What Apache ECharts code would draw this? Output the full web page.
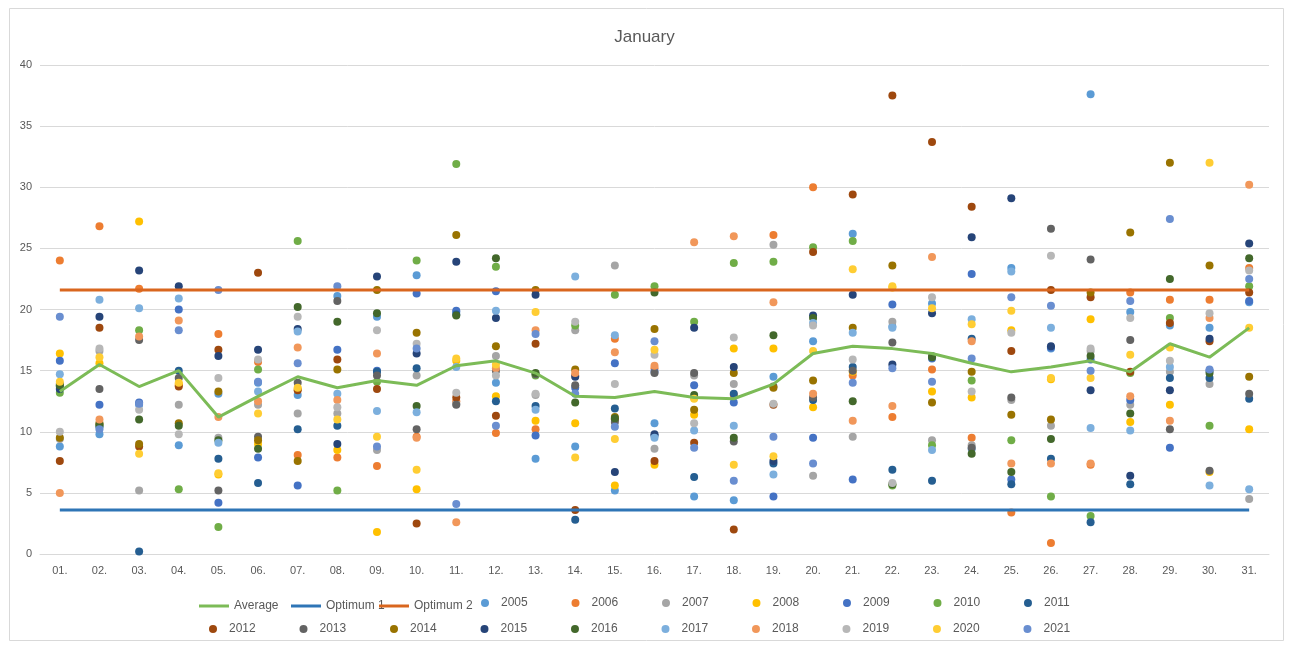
<!DOCTYPE html>
<html>
<head>
<meta charset="utf-8">
<title>January</title>
<script src="https://cdn.jsdelivr.net/npm/echarts@6/dist/echarts.min.js"></script>
<style>
	html, body { margin: 0; padding: 0; background: #fff; }
	#main { width: 1289px; height: 646px; }
</style>
</head>
<body>
<div id="main"></div>
<script>
var days = ['01.','02.','03.','04.','05.','06.','07.','08.','09.','10.','11.','12.','13.','14.','15.','16.',
	'17.','18.','19.','20.','21.','22.','23.','24.','25.','26.','27.','28.','29.','30.','31.'];

var average = [13.3,15.5,13.7,15.0,11.2,12.9,14.5,13.6,14.2,13.8,15.4,15.8,14.8,12.9,12.8,13.3,
	12.8,12.7,13.9,16.4,17.0,16.8,16.4,15.6,14.9,15.3,15.8,14.9,17.2,16.1,18.5];
var optimum1 = [3.6,3.6,3.6,3.6,3.6,3.6,3.6,3.6,3.6,3.6,3.6,3.6,3.6,3.6,3.6,3.6,
	3.6,3.6,3.6,3.6,3.6,3.6,3.6,3.6,3.6,3.6,3.6,3.6,3.6,3.6,3.6];
var optimum2 = [21.6,21.6,21.6,21.6,21.6,21.6,21.6,21.6,21.6,21.6,21.6,21.6,21.6,21.6,21.6,21.6,
	21.6,21.6,21.6,21.6,21.6,21.6,21.6,21.6,21.6,21.6,21.6,21.6,21.6,21.6,21.6];

var y2005 = [8.8,9.8,12.2,8.9,13.1,14.0,13.0,21.1,19.4,22.8,19.8,14.0,7.8,8.8,5.2,10.7,4.7,4.4,14.5,17.4,26.2,18.6,20.5,8.6,23.4,16.8,37.6,19.8,18.7,18.5,20.6];
var y2006 = [24.0,26.8,21.7,13.8,18.0,15.7,8.1,7.9,7.2,9.6,12.5,9.9,10.2,14.6,17.6,15.2,12.8,13.0,26.1,30.0,14.6,11.2,15.1,9.5,3.4,0.9,7.3,21.4,20.8,20.8,23.4];
var y2007 = [9.4,16.6,5.2,12.2,9.5,12.2,11.5,11.5,8.5,14.6,12.3,16.2,13.0,18.3,23.6,8.6,14.6,13.9,25.3,6.4,9.6,19.0,9.3,8.9,12.6,10.5,16.6,12.2,14.9,13.9,4.5];
var y2008 = [16.4,15.6,27.2,13.9,6.5,9.0,13.5,8.5,1.8,5.3,15.8,12.9,10.9,10.7,5.6,7.3,11.4,16.8,16.8,12.0,14.9,21.8,13.3,12.8,18.3,14.3,19.2,10.8,12.2,6.7,10.2];
var y2009 = [15.8,12.2,12.4,20.0,4.2,7.9,5.6,16.7,15.0,21.3,19.9,21.5,9.7,13.6,15.6,14.9,13.8,12.4,4.7,9.5,6.1,20.4,16.0,22.9,6.1,16.9,15.9,12.6,8.7,15.0,20.7];
var y2010 = [13.2,10.5,18.3,5.3,2.2,15.1,25.6,5.2,14.1,24.0,31.9,23.5,14.6,18.7,21.2,21.9,19.0,23.8,23.9,25.1,25.6,5.6,8.9,14.2,9.3,4.7,3.1,14.8,19.3,10.5,21.9];
var y2011 = [13.7,10.4,0.2,15.0,7.8,5.8,10.2,10.5,14.9,15.2,19.6,12.5,12.1,2.8,11.9,9.7,6.3,13.1,7.4,12.6,15.3,6.9,6.0,17.6,5.7,7.8,2.6,5.7,14.4,14.4,12.7];
var y2012 = [7.6,18.5,8.8,13.7,16.7,23.0,13.4,15.9,13.5,2.5,12.8,11.3,17.2,3.6,11.0,7.6,9.1,2.0,12.2,24.7,29.4,37.5,33.7,28.4,16.6,21.6,21.0,14.9,18.9,17.4,21.4];
var y2013 = [13.9,13.5,17.5,14.4,5.2,9.6,14.0,20.7,14.6,10.2,12.2,15.0,14.7,13.8,10.8,14.8,14.8,9.2,13.7,12.8,15.0,17.3,16.2,8.7,12.8,26.6,24.1,17.5,10.2,6.8,13.1];
var y2014 = [9.5,10.7,9.0,10.7,13.3,9.3,7.6,15.1,21.6,18.1,26.1,17.0,21.6,15.1,11.2,18.4,11.8,14.8,13.6,14.2,18.5,23.6,12.4,14.9,11.4,11.0,21.4,26.3,32.0,23.6,14.5];
var y2015 = [13.5,19.4,23.2,21.9,16.2,16.7,18.4,9.0,22.7,16.4,23.9,19.3,21.2,14.5,6.7,9.8,18.5,15.3,7.6,19.5,21.2,15.5,19.7,25.9,29.1,17.0,13.4,6.4,13.4,17.6,25.4];
var y2016 = [13.8,10.6,11.0,10.5,9.3,8.6,20.2,19.0,19.7,12.1,19.5,24.2,14.8,12.4,11.1,21.4,13.0,9.5,17.9,19.3,12.5,5.7,16.1,8.2,6.7,9.4,16.2,11.5,22.5,14.8,24.2];
var y2017 = [14.7,20.8,20.1,20.9,9.1,13.3,18.2,13.1,11.7,11.6,15.3,19.9,11.8,22.7,17.9,9.5,10.1,10.5,6.5,18.9,18.1,18.5,8.5,19.2,23.1,18.5,10.3,10.1,15.3,5.6,5.3];
var y2018 = [5.0,11.0,17.8,19.1,11.2,12.5,16.9,12.6,16.4,9.5,2.6,15.2,18.3,14.8,16.5,15.4,25.5,26.0,20.6,13.1,10.9,12.1,24.3,17.4,7.4,7.4,7.4,12.9,10.9,19.3,30.2];
var y2019 = [10.0,16.8,11.8,9.8,14.4,15.9,19.4,12.0,18.3,17.2,13.2,14.6,13.1,19.0,13.9,16.3,10.7,17.7,12.3,18.7,15.9,5.8,21.0,13.3,18.1,24.4,16.8,19.3,15.8,19.7,23.2];
var y2020 = [14.1,16.1,8.2,14.0,6.6,11.5,13.6,11.0,9.6,6.9,16.0,15.5,19.8,7.9,9.4,16.7,12.7,7.3,8.0,16.6,23.3,21.9,20.1,18.8,19.9,14.4,14.4,16.3,16.9,32.0,18.5];
var y2021 = [19.4,10.2,12.3,18.3,21.6,14.1,15.6,21.9,8.8,16.8,4.1,10.5,18.0,13.1,10.4,17.4,8.7,6.0,9.6,7.4,14.0,15.2,14.1,16.0,21.0,20.3,15.0,20.7,27.4,15.1,22.5];

var yearNames = ['2005','2006','2007','2008','2009','2010','2011','2012','2013','2014','2015','2016','2017','2018','2019','2020','2021'];
var yearData = [y2005,y2006,y2007,y2008,y2009,y2010,y2011,y2012,y2013,y2014,y2015,y2016,y2017,y2018,y2019,y2020,y2021];
var yearColors = ['#5B9BD5','#ED7D31','#A5A5A5','#FFC000','#4472C4','#70AD47','#255E91','#9E480E','#636363',
	'#997300','#264478','#43682B','#7CAFDD','#F1975A','#B7B7B7','#FFCD33','#698ED0'];

var font = "'Liberation Sans', Arial, sans-serif";
var textGrey = '#595959';

var series = [
	{ name: 'Average', type: 'line', data: average, symbol: 'none', color: '#7CBB57',
		lineStyle: { width: 3, color: '#7CBB57' } },
	{ name: 'Optimum 1', type: 'line', data: optimum1, symbol: 'none', color: '#2E75B6',
		lineStyle: { width: 3, color: '#2E75B6' } },
	{ name: 'Optimum 2', type: 'line', data: optimum2, symbol: 'none', color: '#D9661E',
		lineStyle: { width: 3, color: '#D9661E' } }
];

for (var i = 0; i < yearNames.length; i++) {
	series.push({
		name: yearNames[i],
		type: 'scatter',
		data: yearData[i],
		symbol: 'circle',
		symbolSize: 8,
		itemStyle: { color: yearColors[i], opacity: 1 }
	});
}

// one legend block per line series, so each sits where Excel put it
var lineLegend = function(name, left) {
	return {
		data: [{ name: name, icon: 'rect' }],
		left: left,
		top: 595,
		itemWidth: 30,
		itemHeight: 3,
		textStyle: { color: textGrey, fontSize: 12, fontFamily: font }
	};
};

var yearLegend = function(names, left, top) {
	return {
		data: names,
		left: left,
		top: top,
		icon: 'circle',
		itemWidth: 8,
		itemHeight: 8,
		itemGap: 43.8,
		textStyle: { color: textGrey, fontSize: 12, fontFamily: font, padding: [0, 0, 0, 7] }
	};
};

var chart = echarts.init(document.getElementById('main'));
chart.setOption({
	animation: false,
	backgroundColor: '#fff',
	title: {
		text: 'January',
		left: 'center',
		top: 24,
		textStyle: { color: textGrey, fontSize: 17, fontWeight: 'normal', fontFamily: font }
	},
	graphic: [{
		type: 'rect',
		shape: { x: 9.5, y: 8.5, width: 1274, height: 632 },
		style: { fill: 'none', stroke: '#D9D9D9', lineWidth: 1 },
		silent: true
	}],
	legend: [
		lineLegend('Average', 194),
		lineLegend('Optimum 1', 286),
		lineLegend('Optimum 2', 374),
		yearLegend(yearNames.slice(0, 7), 476, 592),
		yearLegend(yearNames.slice(7), 204, 618)
	],
	grid: { left: 40, right: 20, top: 65, bottom: 92 },
	xAxis: {
		type: 'category',
		data: days,
		boundaryGap: true,
		axisLine: { lineStyle: { color: '#D9D9D9' } },
		axisTick: { show: false },
		axisLabel: { color: textGrey, fontSize: 11, fontFamily: font, margin: 11, interval: 0 }
	},
	yAxis: {
		type: 'value',
		min: 0,
		max: 40,
		interval: 5,
		axisLine: { show: false },
		axisTick: { show: false },
		axisLabel: { color: textGrey, fontSize: 11, fontFamily: font, margin: 8 },
		splitLine: { lineStyle: { color: '#D9D9D9' } }
	},
	series: series
});
</script>
</body>
</html>
